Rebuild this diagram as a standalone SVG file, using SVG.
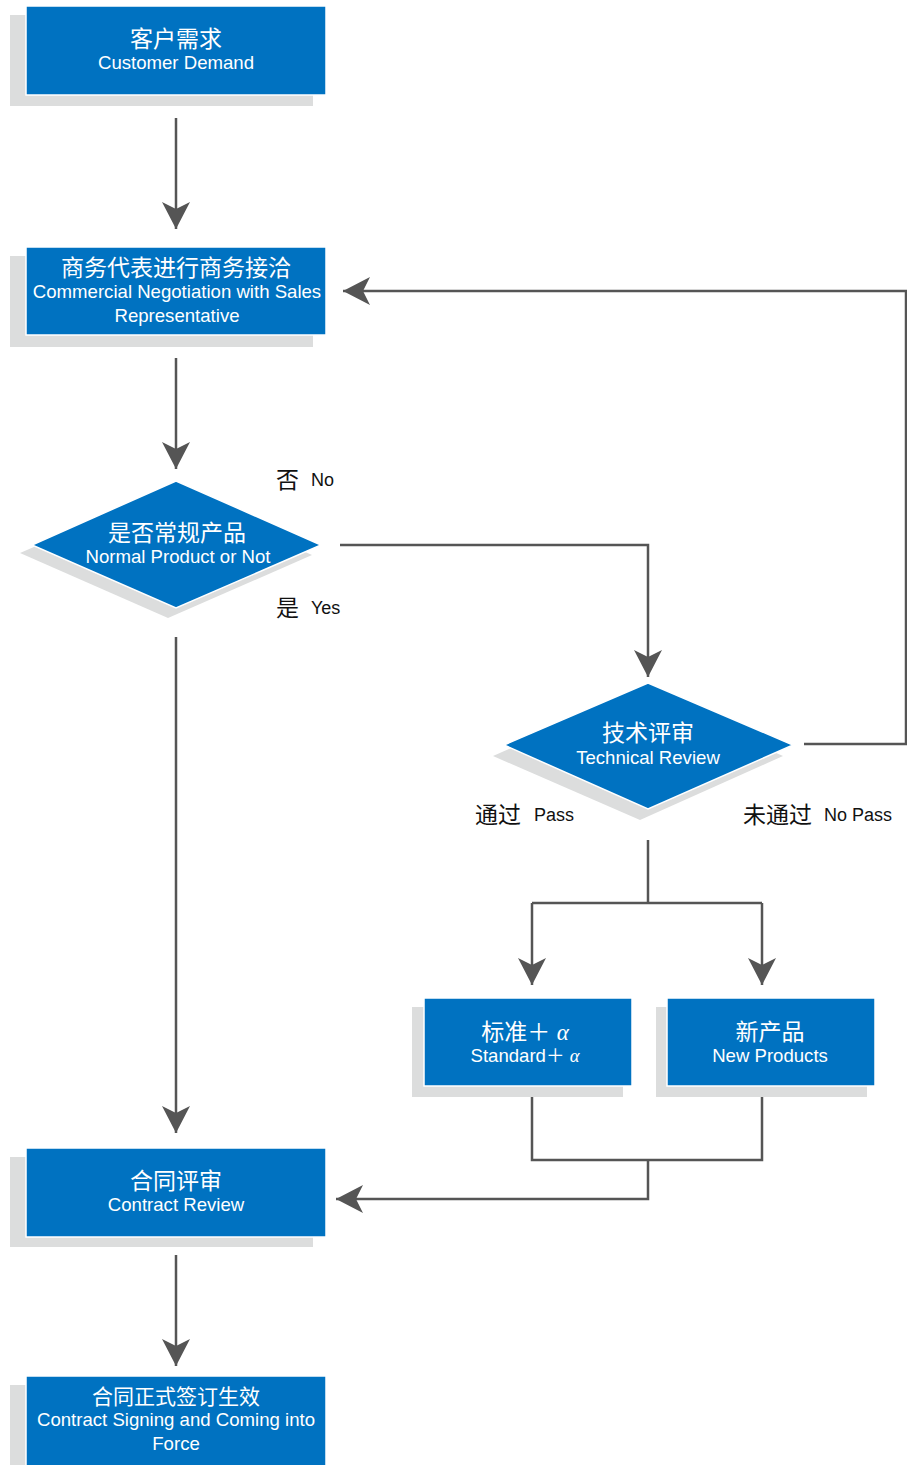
<svg xmlns="http://www.w3.org/2000/svg" width="907" height="1465" viewBox="0 0 907 1465">
<defs>
<style>
.sh{fill:#dcdddd}
.bx{fill:#0072c1;stroke:#ffffff;stroke-width:1.5}
.cn{font-family:"Liberation Sans","Noto Sans CJK SC",sans-serif;font-size:23px;fill:#ffffff;text-anchor:middle}
.en{font-family:"Liberation Sans","Noto Sans CJK SC",sans-serif;font-size:18.6px;fill:#ffffff;text-anchor:middle}
.lc{font-family:"Noto Sans CJK SC","Liberation Sans",sans-serif;font-size:23px;fill:#111111}
.le{font-family:"Liberation Sans",sans-serif;font-size:18px;fill:#111111}
.ln{fill:none;stroke:#555555;stroke-width:2.5}
.al{font-family:"Liberation Serif",serif;font-style:italic}
</style>
<marker id="ar" markerUnits="userSpaceOnUse" viewBox="-28 -15 30 30" refX="0" refY="0" markerWidth="30" markerHeight="30" orient="auto">
<path d="M0,0 L-27,-14 L-20,0 L-27,14 Z" fill="#555555"/>
</marker>
</defs>
<rect width="907" height="1465" fill="#ffffff"/>

<g id="connectors">
<path class="ln" d="M176,118 V229" marker-end="url(#ar)"/>
<path class="ln" d="M176,358 V469" marker-end="url(#ar)"/>
<path class="ln" d="M340,545 H648 V677" marker-end="url(#ar)"/>
<path class="ln" d="M176,637 V1133" marker-end="url(#ar)"/>
<path class="ln" d="M804,744 H906 V291 H343" marker-end="url(#ar)"/>
<path class="ln" d="M648,840 V903"/>
<path class="ln" d="M532,903 H762"/>
<path class="ln" d="M532,903 V985" marker-end="url(#ar)"/>
<path class="ln" d="M762,903 V985" marker-end="url(#ar)"/>
<path class="ln" d="M532,1097 V1160 H762 V1097"/>
<path class="ln" d="M648,1160 V1199 H336" marker-end="url(#ar)"/>
<path class="ln" d="M176,1255 V1366" marker-end="url(#ar)"/>
</g>

<g id="n1">
<rect class="sh" x="10" y="15" width="303" height="91"/>
<rect class="bx" x="26" y="6" width="300" height="89"/>
<text class="cn" x="176" y="47">客户需求</text>
<text class="en" x="176" y="69">Customer Demand</text>
</g>

<g id="n2">
<rect class="sh" x="10" y="256" width="303" height="91"/>
<rect class="bx" x="26" y="247" width="300" height="88"/>
<text class="cn" x="176" y="276">商务代表进行商务接洽</text>
<text class="en" x="177" y="298">Commercial Negotiation with Sales</text>
<text class="en" x="177" y="322">Representative</text>
</g>

<g id="d1">
<polygon class="sh" points="166,490 20,553 168,618 312,555"/>
<polygon class="bx" points="176,481 32,545 176,608 321,545"/>
<text class="cn" x="177" y="541">是否常规产品</text>
<text class="en" x="178" y="563">Normal Product or Not</text>
</g>

<g id="d2">
<polygon class="sh" points="638,692 493,756 640,820 783,756"/>
<polygon class="bx" points="648,683 504,745 648,809 793,745"/>
<text class="cn" x="648" y="741">技术评审</text>
<text class="en" x="648" y="764">Technical Review</text>
</g>

<g id="n3">
<rect class="sh" x="412" y="1007" width="211" height="90"/>
<rect class="bx" x="424" y="998" width="208" height="88"/>
<text class="cn" x="525" y="1040">标准＋ <tspan class="al">α</tspan></text>
<text class="en" x="525" y="1062">Standard＋ <tspan class="al">α</tspan></text>
</g>

<g id="n4">
<rect class="sh" x="656" y="1007" width="211" height="90"/>
<rect class="bx" x="667" y="998" width="208" height="88"/>
<text class="cn" x="770" y="1040">新产品</text>
<text class="en" x="770" y="1062">New Products</text>
</g>

<g id="n5">
<rect class="sh" x="10" y="1157" width="303" height="90"/>
<rect class="bx" x="26" y="1148" width="300" height="89"/>
<text class="cn" x="176" y="1189">合同评审</text>
<text class="en" x="176" y="1211">Contract Review</text>
</g>

<g id="n6">
<rect class="sh" x="10" y="1385" width="303" height="90"/>
<rect class="bx" x="26" y="1376" width="300" height="95"/>
<text class="cn" x="176" y="1404" style="font-size:21px">合同正式签订生效</text>
<text class="en" x="176" y="1426">Contract Signing and Coming into</text>
<text class="en" x="176" y="1450">Force</text>
</g>

<g id="labels">
<text class="lc" x="276" y="488">否</text>
<text class="le" x="311" y="486">No</text>
<text class="lc" x="276" y="616">是</text>
<text class="le" x="311" y="614">Yes</text>
<text class="lc" x="475" y="823">通过</text>
<text class="le" x="534" y="821">Pass</text>
<text class="lc" x="743" y="823">未通过</text>
<text class="le" x="824" y="821">No Pass</text>
</g>
</svg>
